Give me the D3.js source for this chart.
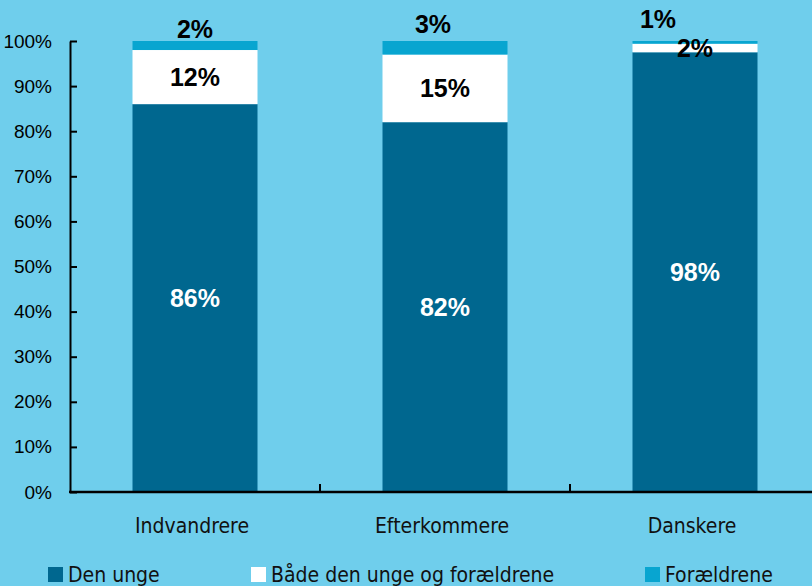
<!DOCTYPE html>
<html>
<head>
<meta charset="utf-8">
<script src="https://cdn.jsdelivr.net/npm/d3@7"></script>
<style>
  body { margin: 0; background: #6fceec; }
  svg { display: block; }
</style>
</head>
<body>
<div id="chart"></div>
<script>
// data (percent)
const categories = ["Indvandrere", "Efterkommere", "Danskere"];
const seriesNames = ["Den unge", "Både den unge og forældrene", "Forældrene"];
const denUnge = [86, 82, 97.5];
const begge = [12, 15, 1.9];
const foraeldre = [2, 3, 0.6];
const yTicks = [0, 10, 20, 30, 40, 50, 60, 70, 80, 90, 100];

const colors = ["#00678f", "#ffffff", "#08a5d0"];
// hand nudges for the small top labels, like the original
const topNudge = [[0, -3], [-12, -8], [-37, -13]];

let width = 812;
let height = 586;

let svg = d3.select("#chart").append("svg")
    .attr("width", width)
    .attr("height", height);

svg.append("rect")
    .attr("width", width).attr("height", height)
    .attr("fill", "#6fceec");

let xScale = d3.scaleBand()
    .domain(categories)
    .range([70, 820])
    .paddingInner(0.5)
    .paddingOuter(0.25);

let yScale = d3.scaleLinear()
    .domain([0, 100])
    .range([492, 41]);

// build stacked table
let table = categories.map((c, i) => ({
    cat: c, s0: denUnge[i], s1: begge[i], s2: foraeldre[i]
}));
let stack = d3.stack().keys(["s0", "s1", "s2"])(table);

// bars
stack.forEach((layer, k) => {
    svg.append("g").selectAll("rect")
        .data(layer)
        .enter()
        .append("rect")
        .attr("x", d => xScale(d.data.cat))
        .attr("width", xScale.bandwidth())
        .attr("y", d => yScale(d[1]))
        .attr("height", d => yScale(d[0]) - yScale(d[1]))
        .attr("fill", colors[k]);
});

// y axis
let yAxis = d3.axisLeft(yScale)
    .tickValues(yTicks)
    .tickSizeInner(-7)
    .tickSizeOuter(0)
    .tickPadding(18)
    .tickFormat(d => d + "%");

let gy = svg.append("g")
    .attr("transform", "translate(70,0)")
    .call(yAxis);
gy.select(".domain").attr("stroke", "#000").attr("stroke-width", 2);
gy.selectAll(".tick line").attr("stroke", "#000").attr("stroke-width", 2);
gy.selectAll(".tick text")
    .attr("fill", "#000")
    .style("font-family", "'Liberation Sans Narrow', 'Arial Narrow', sans-serif")
    .style("font-size", "19px");

// x axis line + separator ticks
svg.append("line")
    .attr("x1", 69).attr("x2", width)
    .attr("y1", yScale(0)).attr("y2", yScale(0))
    .attr("stroke", "#000").attr("stroke-width", 2.5);

let step = xScale.step();
svg.append("g").selectAll("line")
    .data(categories.slice(1))
    .enter()
    .append("line")
    .attr("x1", d => xScale(d) - xScale.paddingOuter() * step)
    .attr("x2", d => xScale(d) - xScale.paddingOuter() * step)
    .attr("y1", yScale(0) - 8)
    .attr("y2", yScale(0))
    .attr("stroke", "#000").attr("stroke-width", 2);

// category labels
svg.append("g").selectAll("text")
    .data(categories)
    .enter()
    .append("text")
    .attr("x", d => xScale(d) + xScale.bandwidth() / 2 - 3)
    .attr("y", 533)
    .attr("text-anchor", "middle")
    .style("font-family", "'DejaVu Sans Condensed', 'DejaVu Sans', sans-serif")
    .style("font-size", "21px")
    .attr("fill", "#111")
    .text(d => d);

// value labels
let labelFont = "'Liberation Sans', Arial, sans-serif";
stack.forEach((layer, k) => {
    svg.append("g").selectAll("text")
        .data(layer)
        .enter()
        .append("text")
        .attr("x", (d, i) => {
            let cx = xScale(d.data.cat) + xScale.bandwidth() / 2;
            return k == 2 ? cx + topNudge[i][0] : cx;
        })
        .attr("y", (d, i) => {
            if (k == 2) return yScale(100) + topNudge[i][1];
            return (yScale(d[0]) + yScale(d[1])) / 2;
        })
        .attr("dy", k == 2 ? 0 : "0.36em")
        .attr("text-anchor", "middle")
        .style("font-family", labelFont)
        .style("font-weight", "bold")
        .style("font-size", "25px")
        .attr("fill", k == 0 ? "#fff" : "#000")
        .text(d => Math.round(d[1] - d[0]) + "%");
});

// legend
let legendX = [48, 251, 645];
let legend = svg.append("g").selectAll("g")
    .data(seriesNames)
    .enter()
    .append("g")
    .attr("transform", (d, i) => "translate(" + legendX[i] + ",567)");
legend.append("rect")
    .attr("width", 15).attr("height", 15)
    .attr("fill", (d, i) => colors[i]);
legend.append("text")
    .attr("x", 20)
    .attr("y", 15)
    .style("font-family", "'DejaVu Sans Condensed', 'DejaVu Sans', sans-serif")
    .style("font-size", "21px")
    .attr("fill", "#111")
    .text(d => d);
</script>
</body>
</html>
